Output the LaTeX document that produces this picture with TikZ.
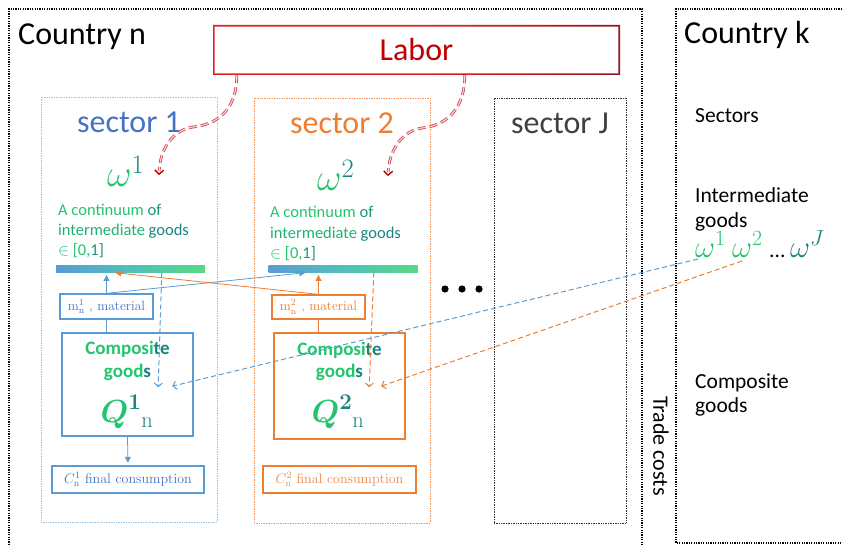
\RequirePackage{fix-cm}
\documentclass[tikz,border=0pt]{standalone}
\usepackage{amsmath}
\usepackage{fontspec}
\setsansfont{Carlito}
\usetikzlibrary{arrows.meta,calc}

\definecolor{secblue}{RGB}{68,114,196}
\definecolor{boxblue}{RGB}{91,155,213}
\definecolor{lightblue}{RGB}{157,195,230}
\definecolor{secorange}{RGB}{237,125,49}
\definecolor{ggreen}{RGB}{34,196,110}
\definecolor{gteal}{RGB}{24,134,126}
\definecolor{laborred}{RGB}{192,0,0}
\definecolor{labred}{RGB}{214,70,80}
\definecolor{labpink}{RGB}{248,215,218}
\definecolor{secgray}{RGB}{64,64,64}
\definecolor{barblue}{RGB}{91,155,213}
\definecolor{barteal}{RGB}{80,192,186}
\definecolor{bargreen}{RGB}{88,216,132}
\definecolor{edgered}{RGB}{232,32,38}
\definecolor{edgedark}{RGB}{150,22,28}

\begin{document}
\begin{tikzpicture}[x=1pt,y=-1pt,
  countrybox/.style={line width=1.2pt, dash pattern=on 1.2pt off 1.2pt, black},
  secbox/.style={draw, line width=0.8pt, dash pattern=on 0.8pt off 0.9pt,
    minimum height=425pt, inner sep=0pt},
  ibox/.style={draw, line width=1.3pt, inner sep=0pt, fill=white},
  gbar/.style={inner sep=0pt, minimum width=149pt, minimum height=6.5pt,
    left color=barblue, right color=bargreen, middle color=barteal},
  bigtxt/.style={font=\sffamily\fontsize{32}{38}\selectfont},
  medtxt/.style={font=\sffamily\fontsize{21.5}{25}\selectfont, anchor=base west, inner sep=0pt},
  smalltxt/.style={font=\sffamily\fontsize{16.5}{20}\selectfont, anchor=base west, inner sep=0pt},
  comptxt/.style={font=\sffamily\bfseries\fontsize{19}{22}\selectfont, anchor=base, inner sep=0pt},
  sertxt/.style={font=\rmfamily\fontsize{13.5}{15}\selectfont},
  omega/.style={font=\fontsize{38}{44}\selectfont, anchor=base west, inner sep=0pt},
  komega/.style={font=\fontsize{31}{36}\selectfont, anchor=base west, inner sep=0pt},
  bigq/.style={font=\fontsize{32}{38}\selectfont, inner sep=0pt},
  flow/.style={line width=0.8pt, -{Triangle[length=6pt,width=6pt]}, shorten >=2.5pt},
  plainlink/.style={line width=0.8pt},
  trade/.style={line width=1pt, dash pattern=on 5pt off 3pt,
    -{Straight Barb[length=3.5pt,width=8pt]}},
  laborout/.style={line width=2.8pt, labred, dash pattern=on 8pt off 4pt, shorten >=4pt},
  laborin/.style={line width=1.1pt, labpink, dash pattern=on 8pt off 4pt, shorten >=4pt},
  labortip/.style={laborred, line width=1.4pt, -{Straight Barb[length=4pt,width=9pt]}}
]
\useasboundingbox (0,0) rectangle (842,545);

% country frames
\draw[countrybox] (9,545) -- (9,9) -- (642,9) -- (642,545);
\draw[countrybox] (842,9) -- (676,9) -- (676,543) -- (842,543);
\node[bigtxt, anchor=base west, inner sep=0pt] (cn) at (18,45) {Country n};
\node[bigtxt, anchor=base west, inner sep=0pt] (ck) at (684,44) {Country k};

% labor box with a red-to-dark outline
\shade[even odd rule, left color=edgered, right color=edgedark, middle color=edgered]
  (213,25) rectangle (620,75) (214.6,26.6) rectangle (618.4,73.4);
\node[bigtxt, text=laborred, minimum width=407pt, minimum height=50pt, inner sep=0pt]
  (labor) at (416.5,50) {Labor};

% sector frames
\node[secbox, draw=lightblue, minimum width=176pt] (sec1) at (129,309.5) {};
\node[secbox, draw=secorange!80, minimum width=176pt] (sec2) at (342,310.5) {};
\node[secbox, draw=black!80, minimum width=132pt] (secJ) at (560,310.5) {};
\node[bigtxt, anchor=base, inner sep=0pt, text=secblue] (s1lab) at (129,133) {sector 1};
\node[bigtxt, anchor=base, inner sep=0pt, text=secorange] (s2lab) at (342,134) {sector 2};
\node[bigtxt, anchor=base, inner sep=0pt, text=secgray] (sJlab) at (560,134) {sector J};

% sector varieties
\node[omega] (w1) at (107,187) {$\color{ggreen}\omega^{\color{gteal}1}$};
\node[omega] (w2) at (317,191) {$\color{ggreen}\omega^{\color{gteal}2}$};

% continuum text
\node[smalltxt] (t1a) at (58,215) {\color{ggreen}A continuum \color{gteal!70!ggreen}of};
\node[smalltxt] (t1b) at (58,235) {\color{ggreen!70!gteal}intermediate \color{gteal}goods};
\node[smalltxt] (t1c) at (58,255) {\color{ggreen}$\in$ [0,\color{gteal!80!ggreen}1]};
\node[smalltxt] (t2a) at (270,218) {\color{ggreen}A continuum \color{gteal!70!ggreen}of};
\node[smalltxt] (t2b) at (270,238) {\color{ggreen!70!gteal}intermediate \color{gteal}goods};
\node[smalltxt] (t2c) at (270,258) {\color{ggreen}$\in$ [0,\color{gteal!80!ggreen}1]};

% gradient bars
\node[gbar] (bar1) at (130.5,269) {};
\node[gbar] (bar2) at (343,269) {};

% material boxes
\node[ibox, draw=boxblue, sertxt, text=secblue, minimum width=93pt, minimum height=25pt]
  (m1) at (106.5,306.5) {$\mathrm{m}_{\mathrm{n}}^{1}$ , material};
\node[ibox, draw=secorange, sertxt, text=secorange, minimum width=93pt, minimum height=24pt]
  (m2) at (318.5,307) {$\mathrm{m}_{\mathrm{n}}^{2}$ , material};

% composite goods boxes
\node[ibox, draw=boxblue, line width=1.6pt, minimum width=131pt, minimum height=103pt] (c1) at (127.5,384.5) {};
\node[ibox, draw=secorange, line width=1.6pt, minimum width=131pt, minimum height=106pt] (c2) at (339.5,386) {};
\node[comptxt] (c1a) at (127.5,354) {\color{ggreen}Composi\color{gteal}te};
\node[comptxt] (c1b) at (127.5,377) {\color{ggreen}good\color{gteal}s};
\node[bigq] (q1) at (127,412) {$\color{ggreen}\boldsymbol{Q}^{\color{gteal}\boldsymbol{1}}_{\color{gteal}\mathrm{n}}$};
\node[comptxt] (c2a) at (339.5,355) {\color{ggreen}Composi\color{gteal}te};
\node[comptxt] (c2b) at (339.5,377) {\color{ggreen}good\color{gteal}s};
\node[bigq] (q2) at (338,412) {$\color{ggreen}\boldsymbol{Q}^{\color{gteal}\boldsymbol{2}}_{\color{gteal}\mathrm{n}}$};

% final consumption boxes
\node[ibox, draw=boxblue, font=\rmfamily\fontsize{14}{16}\selectfont, text=secblue,
  minimum width=152pt, minimum height=27pt] (f1) at (128,479.5) {$C_{\mathrm{n}}^{1}$ final consumption};
\node[ibox, draw=secorange, font=\rmfamily\fontsize{14}{16}\selectfont, text=secorange!90,
  minimum width=153pt, minimum height=27pt] (f2) at (339.5,479.5) {$C_{\mathrm{n}}^{2}$ final consumption};

% more sectors
\fill (445,289) circle (3.6) (462,289) circle (3.6) (479,289) circle (3.6);

% country k legend
\node[medtxt] (kS) at (695,123) {Sectors};
\node[medtxt] (kI1) at (695,203) {Intermediate};
\node[medtxt] (kI2) at (695,227) {goods};
\node[komega] (wk1) at (695,257) {$\color{ggreen}\omega^{1}$};
\node[komega] (wk2) at (732,257) {$\color{ggreen}\omega^{2}$};
\node[medtxt] (kdots) at (769,257) {...};
\node[komega] (wkJ) at (790,257) {$\color{gteal}\omega^{J}$};
\node[medtxt] (kC1) at (695,388) {Composite};
\node[medtxt] (kC2) at (695,412) {goods};
\node[font=\sffamily\fontsize{22}{26}\selectfont, rotate=-90, inner sep=0pt] (tc) at (661,446) {Trade costs};

% links inside sector 1
\draw[flow, boxblue] (m1.north) -- (m1.north |- bar1.south);
\draw[plainlink, boxblue] (m1.south) -- (m1.south |- c1.north);
\draw[flow, boxblue] (c1.south) -- (f1.north);
\draw[flow, boxblue] (m1.north) -- ($(bar2.south west)+(39.5,0)$);
\draw[trade, boxblue] ($(bar1.south west)+(106,0)$) -- ($(c1.north west)+(97,55)$);

% links inside sector 2
\draw[flow, secorange] (m2.north) -- (m2.north |- bar2.south);
\draw[plainlink, secorange] (m2.south) -- (m2.south |- c2.north);
\draw[flow, secorange] (m2.north) -- ($(bar1.south west)+(57,0)$);
\draw[trade, secorange] ($(bar2.south west)+(105.5,0)$) -- ($(c2.north west)+(96,55)$);

% imports from country k
\draw[trade, boxblue] ($(wk1.base west)+(3,2)$) -- ($(c1.north west)+(111,54)$);
\draw[trade, secorange] ($(wk2.base west)+(10,4)$) -- ($(c2.north west)+(108,54)$);

% labor supply to each sector: doubled dashed curve, then a red barb at the end
\coordinate (lab1end) at (159,175);
\coordinate (lab2end) at (388,176);
\foreach \s in {laborout, laborin} {
  \draw[\s] ($(labor.south west)+(24,0)$) .. controls (237,105) and (222,124) .. (193,127)
     .. controls (172,130) and (160,150) .. (lab1end);
  \draw[\s] ($(labor.south west)+(252,0)$) .. controls (465,105) and (450,125) .. (422,128)
     .. controls (401,131) and (389,152) .. (lab2end);
}
\draw[labortip] ($(lab1end)+(0.05,-1)$) -- (lab1end);
\draw[labortip] ($(lab2end)+(0.05,-1)$) -- (lab2end);
\end{tikzpicture}
\end{document}
